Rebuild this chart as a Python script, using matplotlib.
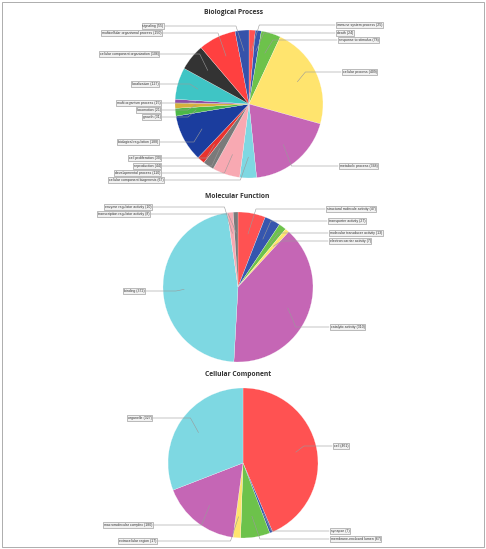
import matplotlib
matplotlib.use("Agg")
import matplotlib.pyplot as plt
import numpy as np

# Biological Process (clockwise from 12 o'clock)
bp_names = ["immune system process", "death", "response to stimulus", "cellular process",
            "metabolic process", "cellular component biogenesis", "developmental process",
            "reproduction", "cell proliferation", "biological regulation", "growth",
            "locomotion", "multi-organism process", "localization",
            "cellular component organization", "multicellular organismal process", "signaling"]
bp_counts = [25, 24, 78, 409, 348, 67, 110, 44, 30, 188, 31, 21, 15, 127, 106, 150, 55]

# Molecular Function
mf_names = ["structural molecule activity", "transporter activity",
            "molecular transducer activity", "electron carrier activity",
            "catalytic activity", "binding", "enzyme regulator activity",
            "transcription regulator activity"]
mf_counts = [47, 27, 13, 7, 310, 372, 10, 8]

# Cellular Component
cc_names = ["cell", "synapse", "membrane-enclosed lumen", "extracellular region",
            "macromolecular complex", "organelle"]
cc_counts = [461, 7, 67, 17, 180, 327]

RED = "#FF5252"
BLUE = "#3656AE"
GREEN = "#6DC24B"
YELLOW = "#FFE46E"
MAGENTA = "#C566B5"
CYAN = "#7ED8E2"
PINK = "#F8A9B2"
GRAY = "#7A7A7A"

bp_colors = [RED, BLUE, GREEN, YELLOW, MAGENTA, CYAN, PINK, GRAY, "#E8332E", "#1B3D9E",
             "#4DB848", "#D6B03C", "#8E4DA8", "#3FC5C5", "#333333", "#FF4040", "#3552AA"]
mf_colors = [RED, BLUE, GREEN, YELLOW, MAGENTA, CYAN, PINK, GRAY]
cc_colors = [RED, BLUE, GREEN, YELLOW, MAGENTA, CYAN]

# layout (image pixel coords): side, box edge x, y
bp_layout = [("R", 335, 25), ("R", 335, 33), ("R", 337, 40), ("R", 341, 72),
             ("R", 338, 166), ("L", 165, 180), ("L", 162, 173), ("L", 162, 166),
             ("L", 162, 158), ("L", 160, 142), ("L", 162, 117), ("L", 162, 110),
             ("L", 162, 103), ("L", 160, 84), ("L", 160, 54), ("L", 163, 33),
             ("L", 165, 26)]
mf_layout = [("R", 325, 209), ("R", 327, 221), ("R", 328, 233), ("R", 328, 241),
             ("R", 329, 327), ("L", 146, 291), ("L", 153, 207), ("L", 151, 214)]
cc_layout = [("R", 332, 446), ("R", 329, 531), ("R", 329, 539), ("L", 158, 541),
             ("L", 154, 525), ("L", 153, 418)]

W, H = 486, 549
fig = plt.figure(figsize=(W / 100, H / 100), dpi=100)
ax = fig.add_axes([0, 0, 1, 1])


def draw_pie(counts, names, colors, layout, center, r, title, title_x, title_y):
    cx, cy = center[0], H - center[1]
    wedges, _ = ax.pie(counts, colors=colors, startangle=90, counterclock=False,
                       center=(cx, cy), radius=r, frame=True,
                       wedgeprops=dict(edgecolor="white", linewidth=0.15))
    for w, name, n, (side, bx, by) in zip(wedges, names, counts, layout):
        mid = np.deg2rad((w.theta1 + w.theta2) / 2)
        ax_, ay_ = cx + 0.72 * r * np.cos(mid), cy + 0.72 * r * np.sin(mid)
        ly = H - by
        kx = ax_ + (8 if side == "R" else -8)
        ax.plot([ax_, kx, bx], [ay_, ly, ly], color="#9a9a9a", lw=0.4, zorder=3)
        ax.text(bx + (1.5 if side == "R" else -1.5), ly, f"{name} ({n})",
                ha="left" if side == "R" else "right", va="center",
                fontsize=2.5, family="Liberation Sans", color="#333333", zorder=4,
                bbox=dict(boxstyle="square,pad=0.25", facecolor="#f2f2f2",
                          edgecolor="#8c8c8c", linewidth=0.4))
    ax.text(title_x, H - title_y, title, ha="center", va="center", fontsize=4.9,
            fontweight="bold", family="Open Sans", color="#333333")


draw_pie(bp_counts, bp_names, bp_colors, bp_layout, (249, 104), 74,
         "Biological Process", 234, 12)
draw_pie(mf_counts, mf_names, mf_colors, mf_layout, (238, 287), 75,
         "Molecular Function", 237, 197)
draw_pie(cc_counts, cc_names, cc_colors, cc_layout, (243, 463), 75,
         "Cellular Component", 238, 375)

ax.add_patch(plt.Rectangle((2, 2), W - 4, H - 4, fill=False, edgecolor="#a0a0a0", lw=0.6))
ax.set_xlim(0, W)
ax.set_ylim(0, H)
ax.set_aspect("equal")
ax.axis("off")

fig.savefig("out.png", dpi=100, facecolor="white")
